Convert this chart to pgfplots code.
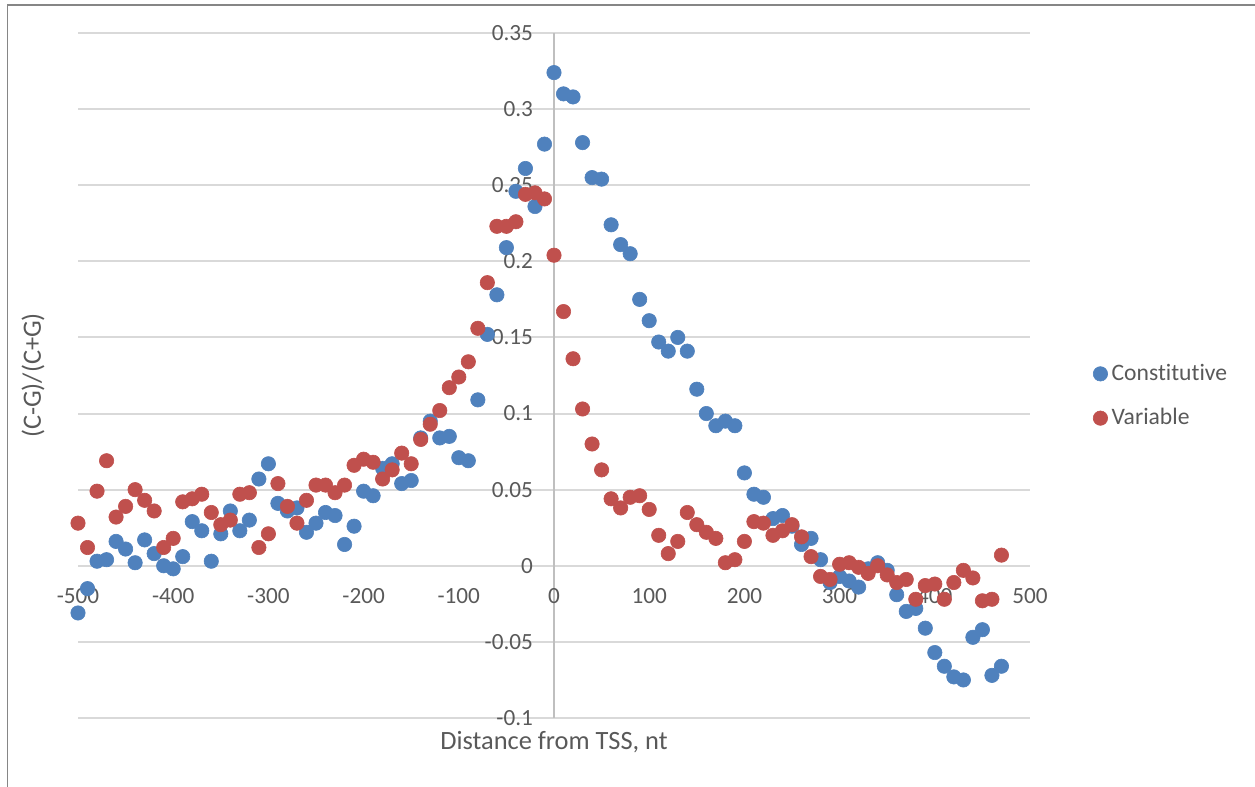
\documentclass[border=0pt]{standalone}
\usepackage{pgfplots}
\pgfplotsset{compat=1.18}
\usepackage{pgfplotstable}
\usepackage{fontspec}
\setmainfont{Carlito}[Ligatures=NoCommon]

\definecolor{constblue}{HTML}{4F81BD}
\definecolor{varred}{HTML}{C0504D}
\definecolor{textgray}{HTML}{595959}
\definecolor{gridgray}{HTML}{D9D9D9}
\definecolor{axisgray}{HTML}{BFBFBF}
\definecolor{framegray}{HTML}{868686}

% (C-G)/(C+G) skew in 10-nt windows around the TSS
\pgfplotstableread{
x     c
-500  -0.031
-490  -0.015
-480   0.003
-470   0.004
-460   0.016
-450   0.011
-440   0.002
-430   0.017
-420   0.008
-410   0.000
-400  -0.002
-390   0.006
-380   0.029
-370   0.023
-360   0.003
-350   0.021
-340   0.036
-330   0.023
-320   0.030
-310   0.057
-300   0.067
-290   0.041
-280   0.036
-270   0.038
-260   0.022
-250   0.028
-240   0.035
-230   0.033
-220   0.014
-210   0.026
-200   0.049
-190   0.046
-180   0.064
-170   0.067
-160   0.054
-150   0.056
-140   0.084
-130   0.095
-120   0.084
-110   0.085
-100   0.071
-90    0.069
-80    0.109
-70    0.152
-60    0.178
-50    0.209
-40    0.246
-30    0.261
-20    0.236
-10    0.277
0      0.324
10     0.310
20     0.308
30     0.278
40     0.255
50     0.254
60     0.224
70     0.211
80     0.205
90     0.175
100    0.161
110    0.147
120    0.141
130    0.150
140    0.141
150    0.116
160    0.100
170    0.092
180    0.095
190    0.092
200    0.061
210    0.047
220    0.045
230    0.031
240    0.033
250    0.026
260    0.014
270    0.018
280    0.004
290   -0.011
300   -0.007
310   -0.010
320   -0.014
330   -0.002
340    0.002
350   -0.003
360   -0.019
370   -0.030
380   -0.028
390   -0.041
400   -0.057
410   -0.066
420   -0.073
430   -0.075
440   -0.047
450   -0.042
460   -0.072
470   -0.066
}\constitutive

\pgfplotstableread{
x     v
-500   0.028
-490   0.012
-480   0.049
-470   0.069
-460   0.032
-450   0.039
-440   0.050
-430   0.043
-420   0.036
-410   0.012
-400   0.018
-390   0.042
-380   0.044
-370   0.047
-360   0.035
-350   0.027
-340   0.030
-330   0.047
-320   0.048
-310   0.012
-300   0.021
-290   0.054
-280   0.039
-270   0.028
-260   0.043
-250   0.053
-240   0.053
-230   0.048
-220   0.053
-210   0.066
-200   0.070
-190   0.068
-180   0.057
-170   0.063
-160   0.074
-150   0.067
-140   0.083
-130   0.093
-120   0.102
-110   0.117
-100   0.124
-90    0.134
-80    0.156
-70    0.186
-60    0.223
-50    0.223
-40    0.226
-30    0.244
-20    0.245
-10    0.241
0      0.204
10     0.167
20     0.136
30     0.103
40     0.080
50     0.063
60     0.044
70     0.038
80     0.045
90     0.046
100    0.037
110    0.020
120    0.008
130    0.016
140    0.035
150    0.027
160    0.022
170    0.018
180    0.002
190    0.004
200    0.016
210    0.029
220    0.028
230    0.020
240    0.023
250    0.027
260    0.019
270    0.006
280   -0.007
290   -0.009
300    0.001
310    0.002
320   -0.001
330   -0.005
340    0.000
350   -0.006
360   -0.011
370   -0.009
380   -0.022
390   -0.013
400   -0.012
410   -0.022
420   -0.011
430   -0.003
440   -0.008
450   -0.023
460   -0.022
470    0.007
}\variable

\pgfplotsset{
  dot legend/.style={legend image code/.code={\draw[##1] plot coordinates {(0bp,0bp)};}},
}

\begin{document}
\begin{tikzpicture}
\useasboundingbox (-39bp,-34.5bp) rectangle (588.5bp,359bp);
% chart area frame (left and top edges)
\draw[framegray, line width=0.7bp] (-35.2bp,-34.5bp) -- (-35.2bp,356.4bp) -- (588.5bp,356.4bp);
\begin{axis}[
  at={(0,0)}, anchor=south west,
  scale only axis, width=476bp, height=342.5bp,
  xmin=-500, xmax=500, ymin=-0.1, ymax=0.35,
  clip=false,
  axis lines=middle,
  x axis line style={-, draw=gridgray, line width=1bp},
  y axis line style={-, draw=axisgray, line width=1bp},
  hide obscured x ticks=false, hide obscured y ticks=false,
  xtick={-500,-400,-300,-200,-100,0,100,200,300,400,500},
  xticklabels={-500,-400,-300,-200,-100,0,100,200,300,400,500},
  ytick={-0.1,-0.05,0,0.05,0.1,0.15,0.2,0.25,0.3,0.35},
  yticklabels={-0.1,-0.05,0,0.05,0.1,0.15,0.2,0.25,0.3,0.35},
  major tick length=0pt,
  ymajorgrids,
  grid style={draw=gridgray, line width=1bp},
  tick label style={font=\fontsize{11.6bp}{13bp}\selectfont, text=textgray},
  xticklabel style={anchor=north, yshift=-8bp},
  yticklabel style={anchor=east, xshift=-7bp},
  xlabel={Distance from TSS, nt},
  ylabel={(C-G)/(C+G)},
  every axis x label/.style={at={(rel axis cs:0.5,-0.0453)}, anchor=base,
    font=\fontsize{13.2bp}{15bp}\selectfont, text=textgray},
  every axis y label/.style={at={(rel axis cs:-0.0473,0.5)}, anchor=center, rotate=90,
    font=\fontsize{13.2bp}{15bp}\selectfont, text=textgray},
  legend style={draw=none, fill=none, at={(rel axis cs:1.066,0.470)}, anchor=west,
    inner sep=0pt, font=\fontsize{11.8bp}{13bp}\selectfont, text=textgray,
    row sep=8.5bp, nodes={inner sep=2bp}},
  legend cell align=left,
]
\addplot[only marks, mark=*, mark size=3.6bp, mark options={fill=constblue, draw=constblue, line width=0.3bp}, dot legend]
  table[x=x, y=c] {\constitutive};
\addlegendentry{Constitutive}
\addplot[only marks, mark=*, mark size=3.6bp, mark options={fill=varred, draw=varred, line width=0.3bp}, dot legend]
  table[x=x, y=v] {\variable};
\addlegendentry{Variable}
\end{axis}
\end{tikzpicture}
\end{document}
